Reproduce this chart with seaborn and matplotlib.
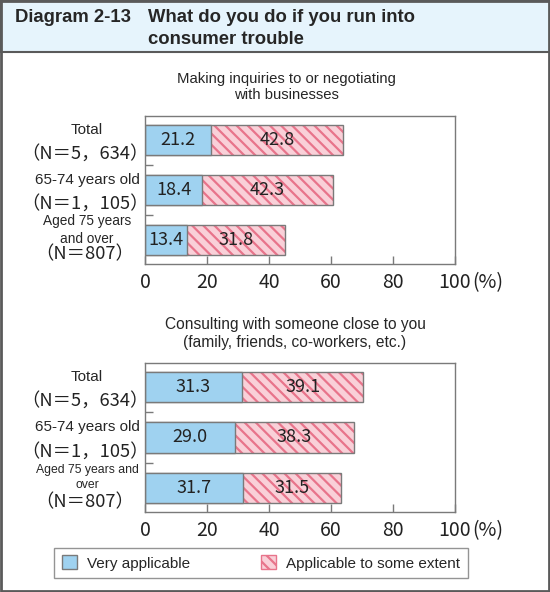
import pandas as pd
import matplotlib.pyplot as plt
import seaborn as sns
from matplotlib.patches import Patch, Rectangle
from matplotlib.transforms import blended_transform_factory

# data
groups = ['Total', '65-74 years old', 'Aged 75 years and over']
group_n = ['（N＝5，634）', '（N＝1，105）', '（N＝807）']
panel_titles = ['Making inquiries to or negotiating\nwith businesses',
                'Consulting with someone close to you\n(family, friends, co-workers, etc.)']
very_inquiry = [21.2, 18.4, 13.4]
some_inquiry = [42.8, 42.3, 31.8]
very_consult = [31.3, 29.0, 31.7]
some_consult = [39.1, 38.3, 31.5]
x_ticks = [0, 20, 40, 60, 80, 100]
legend_labels = ['Very applicable', 'Applicable to some extent']

BLUE = '#9fd2f0'
PINK = '#f9d0d8'
STRIPE = '#e8748b'
EDGE = '#7a7a7a'
HATCH = '\\\\\\'
NUM_FONT = ['Noto Sans CJK JP', 'DejaVu Sans']
TXT_FONT = ['Liberation Sans', 'DejaVu Sans']

sns.set_style('white')
plt.rcParams['font.family'] = TXT_FONT
plt.rcParams['hatch.linewidth'] = 1.6

W, H = 550, 592
fig = plt.figure(figsize=(W / 100, H / 100), dpi=100)


def fx(px):
    return px / W


def fy(py):
    return 1 - py / H


# frame and header band
fig.patches.append(Rectangle((0, fy(52)), 1, 52 / H, transform=fig.transFigure,
                             facecolor='#e6f4fc', edgecolor='#5a5a5a', lw=1.5, zorder=0))
fig.patches.append(Rectangle((0.002, 0.002), 0.996, 0.996, transform=fig.transFigure,
                             fill=False, edgecolor='#5a5a5a', lw=2, zorder=0))
fig.text(fx(15), fy(17), 'Diagram 2-13', fontsize=13.3, fontweight='bold', va='center')
fig.text(fx(148), fy(17), 'What do you do if you run into', fontsize=13.3,
         fontweight='bold', va='center')
fig.text(fx(148), fy(40), 'consumer trouble', fontsize=13.3, fontweight='bold', va='center')

panels = [
    dict(very=very_inquiry, some=some_inquiry, title=panel_titles[0],
         top=116, bottom=264, title_x=286, title_y=87, title_size=10.7,
         names=['Total', '65-74 years old', 'Aged 75 years\nand over'], small=9.8),
    dict(very=very_consult, some=some_consult, title=panel_titles[1],
         top=363, bottom=512, title_x=295, title_y=334, title_size=11.2,
         names=['Total', '65-74 years old', 'Aged 75 years and\nover'], small=8.8),
]

for p in panels:
    ax = fig.add_axes([fx(145), fy(p['bottom']), fx(310), (p['bottom'] - p['top']) / H])
    df = pd.DataFrame({'group': groups, 'very': p['very'],
                       'total': [v + s for v, s in zip(p['very'], p['some'])]})

    sns.barplot(data=df, y='group', x='total', orient='h', color=PINK, saturation=1,
                width=0.6, edgecolor=STRIPE, hatch=HATCH, linewidth=0, ax=ax)
    sns.barplot(data=df, y='group', x='total', orient='h', fill=False, width=0.6,
                edgecolor=EDGE, linewidth=1, ax=ax)
    sns.barplot(data=df, y='group', x='very', orient='h', color=BLUE, saturation=1,
                width=0.6, edgecolor=EDGE, linewidth=1, ax=ax)

    for i, (v, s) in enumerate(zip(p['very'], p['some'])):
        ax.text(v / 2, i, f'{v:.1f}', ha='center', va='center', fontsize=13,
                family=NUM_FONT, color='#222222')
        ax.text(v + s / 2, i, f'{s:.1f}', ha='center', va='center', fontsize=13,
                family=NUM_FONT, color='#222222')

    ax.set_xlim(0, 100)
    ax.set_ylim(2.48, -0.48)
    ax.set_xticks(x_ticks)
    ax.set_xticklabels([str(t) for t in x_ticks], family=NUM_FONT, fontsize=14,
                       color='#222222')
    ax.set_yticks([0.5, 1.5])
    ax.set_yticklabels([])
    ax.tick_params(axis='both', direction='in', length=6, width=1, color=EDGE,
                   pad=6, left=True, bottom=True)
    ax.set_xlabel('')
    ax.set_ylabel('')
    for sp in ax.spines.values():
        sp.set_color(EDGE)
        sp.set_linewidth(1)

    ax.annotate('(%)', xy=(1, 0), xycoords='axes fraction', xytext=(17, -19),
                textcoords='offset pixels', ha='left', va='center', fontsize=14,
                family=NUM_FONT, color='#222222')

    fig.text(fx(p['title_x']), fy(p['title_y']), p['title'], ha='center', va='center',
             fontsize=p['title_size'], linespacing=1.25)

    trans = blended_transform_factory(fig.transFigure, ax.transData)
    for i, (name, n) in enumerate(zip(p['names'], group_n)):
        two_line = '\n' in name
        ax.annotate(name, xy=(fx(87), i), xycoords=trans,
                    xytext=(0, 10), textcoords='offset pixels',
                    ha='center', va='center',
                    fontsize=p['small'] if two_line else 11, linespacing=1.3)
        ax.annotate(n, xy=(fx(85), i), xycoords=trans, xytext=(0, -14),
                    textcoords='offset pixels', ha='center', va='center',
                    fontsize=13.2, family=NUM_FONT, color='#222222')

handles = [Patch(facecolor=BLUE, edgecolor=EDGE, lw=1),
           Patch(facecolor=PINK, edgecolor=STRIPE, hatch=HATCH, lw=1)]
leg = fig.legend(handles, legend_labels, loc='center', ncol=2, mode='expand',
                 bbox_to_anchor=(fx(54), fy(580), fx(414), 34 / H),
                 fontsize=11, frameon=True, fancybox=False, edgecolor=EDGE,
                 handlelength=1.0, handleheight=1.0, handletextpad=0.65,
                 borderpad=0.5, borderaxespad=0)
leg.get_frame().set_linewidth(1)

fig.savefig('out.png', dpi=100)
